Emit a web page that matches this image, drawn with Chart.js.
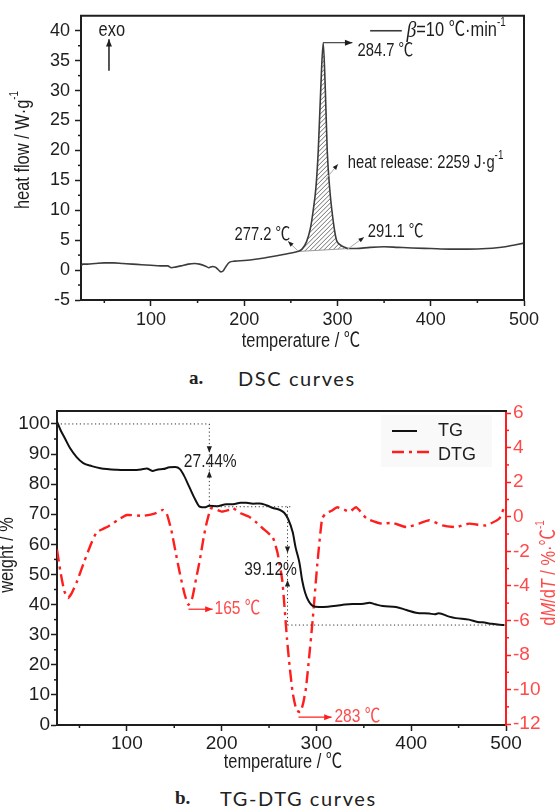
<!DOCTYPE html>
<html>
<head>
<meta charset="utf-8">
<script src="https://cdn.jsdelivr.net/npm/chart.js@4.4.1/dist/chart.umd.min.js"></script>
<style>
  html, body { margin: 0; padding: 0; background: #fff; }
  #page { position: relative; width: 558px; height: 810px; overflow: hidden; }
  #wrapA { position: absolute; left: 0; top: 0; width: 558px; height: 360px; }
  #wrapB { position: absolute; left: 0; top: 390px; width: 558px; height: 390px; }
  .cap { position: absolute; height: 24px; line-height: 24px; white-space: nowrap; color: #222; }
  .capNo { font-family: "Liberation Serif", serif; font-weight: bold; font-size: 19px; }
  .capTx { font-family: Lato, "Open Sans", sans-serif; font-size: 20px; letter-spacing: 1.6px; }
</style>
</head>
<body>
<div id="page">
  <div id="wrapA"><canvas id="dsc" width="558" height="360"></canvas></div>
  <div id="wrapB"><canvas id="tg" width="558" height="390"></canvas></div>
  <div class="cap capNo" style="left:189px;top:366px;">a.</div>
  <div class="cap capTx" style="left:238px;top:366px;">DSC curves</div>
  <div class="cap capNo" style="left:175px;top:786px;">b.</div>
  <div class="cap capTx" style="left:220px;top:786px;">TG-DTG curves</div>
</div>
<script>
// ---- DSC curve (figure a) ----
const dscTemp = [25, 27, 32, 40, 50, 60, 70, 80, 90, 100,
  110, 118, 122, 126, 132, 140, 147, 152, 158, 162,
  166, 169, 172, 175, 177, 180, 184, 190, 200, 212,
  224, 235, 245, 252, 257, 262, 267, 271, 274, 277,
  279.4, 282, 284.7, 287, 289, 292, 294, 297, 299, 303,
  308, 312, 320, 335, 350, 365, 380, 400, 420, 440,
  460, 480, 490, 500];
const dscHeat = [0.7, 1.0, 1.0, 1.1, 1.2, 1.2, 1.1, 1.0, 0.9, 0.8,
  0.7, 0.7, 0.4, 0.5, 0.7, 1.0, 1.1, 1.0, 0.7, 0.4,
  0.6, 0.5, 0.1, -0.3, -0.2, 0.5, 1.3, 1.5, 1.6, 1.8,
  2.1, 2.4, 2.7, 2.9, 3.1, 3.5, 4.8, 7, 10, 14,
  20, 30, 38, 30, 20, 13, 10, 6.5, 5.0, 4.2,
  3.8, 3.6, 3.6, 3.8, 3.9, 3.8, 3.7, 3.6, 3.5, 3.5,
  3.6, 3.9, 4.2, 4.5];
const dscPeakRange = [257, 312];          // hatched heat-release area
const dscXTicks = [100, 200, 300, 400, 500];
const dscXMinor = [50, 150, 250, 350, 450];
const dscYTicks = [-5, 0, 5, 10, 15, 20, 25, 30, 35, 40];
const dscYMinor = [-2.5, 2.5, 7.5, 12.5, 17.5, 22.5, 27.5, 32.5, 37.5];

// ---- TG / DTG curves (figure b) ----
const tgTemp = [26.3, 30, 35, 40, 47, 54, 63, 72, 90, 106,
  115, 121, 127, 133, 138, 145, 151, 156, 160, 166,
  172, 177, 182, 187, 195, 205, 212, 220, 226, 233,
  240, 247, 255, 261, 266, 270, 275, 278, 282, 285,
  288, 292, 296, 303, 312, 321, 330, 338, 350, 356,
  362, 370, 384, 395, 405, 419, 425, 429, 440, 447,
  461, 470, 475, 485, 493, 498];
const tgWeight = [100.8, 98, 95, 92, 89, 87, 86, 85.3, 84.8, 84.7,
  84.9, 85.2, 84.4, 84.9, 85, 85.6, 85.7, 85, 83, 79,
  75, 72.5, 72.3, 72.8, 72.7, 73.3, 73.3, 73.8, 73.8, 73.5,
  73.6, 73, 72, 71.5, 70.5, 68.5, 64, 59, 54, 48,
  44, 41, 39.6, 39.2, 39.3, 39.6, 40, 40.2, 40.3, 40.6,
  40.1, 39.5, 39.2, 38.2, 37.3, 37, 36.8, 37.1, 36, 35.5,
  35, 34.2, 34.1, 33.6, 33.3, 33.2];
const dtgTemp = [26.3, 30, 34, 38, 42, 47, 55, 62, 68, 75,
  82, 90, 100, 117, 130, 138, 142, 147, 152, 156,
  161, 165, 169, 173, 177, 181, 184, 189, 200, 208,
  212, 220, 229, 236, 243, 254, 259, 264, 269, 272,
  275, 279, 283, 286, 289, 292, 296, 301, 306, 310,
  316, 322, 335, 342, 353, 369, 380, 395, 408, 419,
  433, 447, 461, 479, 493, 498];
const dtgRate = [-1.9, -3.2, -4.3, -4.7, -4.4, -3.8, -2.6, -1.6, -0.9, -0.7,
  -0.5, -0.2, 0.1, 0.05, 0.2, 0.4, 0.2, -0.8, -2.2, -3.3,
  -4.5, -5.1, -4.7, -3.6, -2.5, -1.2, -0.4, 0.5, 0.3, 0.4,
  0.5, 0.2, 0, -0.3, -0.65, -1.2, -2.1, -3.7, -7.1, -8.8,
  -10.2, -11.2, -11.3, -10.8, -9.9, -8.3, -6, -2.7, -0.1, 0.2,
  0.35, 0.55, 0.3, 0.55, -0.1, -0.4, -0.35, -0.6, -0.4, -0.2,
  -0.5, -0.6, -0.4, -0.5, -0.1, 0.55];
const tgXTicks = [100, 200, 300, 400, 500];
const tgXMinor = [50, 150, 250, 350, 450];
const tgYTicks = [0, 10, 20, 30, 40, 50, 60, 70, 80, 90, 100];
const tgYMinor = [5, 15, 25, 35, 45, 55, 65, 75, 85, 95];
const dtgYTicks = [-12, -10, -8, -6, -4, -2, 0, 2, 4, 6];
const dtgYMinor = [-11, -9, -7, -5, -3, -1, 1, 3, 5];

const SANS = '"Liberation Sans", Arial, "Noto Sans CJK SC", sans-serif';
const SQ = 0.82;                     // horizontal squeeze for the narrow labels
const INK = '#1e1e1e';
const RED = '#ff1e1e';
const RED_TXT = '#ff4a4a';

// ---------- helpers ----------
// parts: [text, font, color, dy]; sx squeezes the text horizontally
function richText(ctx, parts, x, y, align, sx) {
  sx = sx || 1;
  let w = 0;
  parts.forEach(p => { ctx.font = p[1]; w += ctx.measureText(p[0]).width * sx; });
  let cx = align === 'center' ? x - w / 2 : align === 'right' ? x - w : x;
  ctx.textAlign = 'left';
  ctx.textBaseline = 'middle';
  parts.forEach(p => {
    ctx.font = p[1];
    ctx.fillStyle = p[2];
    ctx.save();
    ctx.translate(cx, y + (p[3] || 0));
    ctx.scale(sx, 1);
    ctx.fillText(p[0], 0, 0);
    ctx.restore();
    cx += ctx.measureText(p[0]).width * sx;
  });
}

function head(ctx, x1, y1, x2, y2, size, color) {
  const a = Math.atan2(y2 - y1, x2 - x1);
  ctx.fillStyle = color;
  ctx.beginPath();
  ctx.moveTo(x2, y2);
  ctx.lineTo(x2 - size * Math.cos(a - 0.38), y2 - size * Math.sin(a - 0.38));
  ctx.lineTo(x2 - size * Math.cos(a + 0.38), y2 - size * Math.sin(a + 0.38));
  ctx.closePath();
  ctx.fill();
}

function arrow(ctx, x1, y1, x2, y2, o) {
  ctx.save();
  ctx.strokeStyle = o.line;
  ctx.lineWidth = o.width || 1;
  ctx.beginPath();
  ctx.moveTo(x1, y1);
  ctx.lineTo(x2, y2);
  ctx.stroke();
  head(ctx, x1, y1, x2, y2, o.head || 7, o.headColor || o.line);
  ctx.restore();
}

function line(ctx, x1, y1, x2, y2, color, width, dash) {
  ctx.save();
  ctx.strokeStyle = color;
  ctx.lineWidth = width;
  ctx.setLineDash(dash || []);
  ctx.beginPath();
  ctx.moveTo(x1, y1);
  ctx.lineTo(x2, y2);
  ctx.stroke();
  ctx.restore();
}

// minor ticks + frame lines
const axisExtras = {
  id: 'axisExtras',
  afterDraw(chart, args, opts) {
    const ctx = chart.ctx, a = chart.chartArea;
    ctx.save();
    (opts.minor || []).forEach(m => {
      const sc = chart.scales[m.axis];
      ctx.strokeStyle = m.color;
      ctx.lineWidth = 1.5;
      m.values.forEach(v => {
        const p = sc.getPixelForValue(v);
        ctx.beginPath();
        if (sc.axis === 'x') { ctx.moveTo(p, a.bottom); ctx.lineTo(p, a.bottom + m.len); }
        else if (sc.position === 'left') { ctx.moveTo(a.left, p); ctx.lineTo(a.left - m.len, p); }
        else { ctx.moveTo(a.right, p); ctx.lineTo(a.right + m.len, p); }
        ctx.stroke();
      });
    });
    ctx.strokeStyle = INK;
    ctx.lineWidth = 2;
    if (opts.top) { ctx.beginPath(); ctx.moveTo(a.left - 1, a.top); ctx.lineTo(a.right + 1, a.top); ctx.stroke(); }
    if (opts.right) { ctx.beginPath(); ctx.moveTo(a.right, a.top); ctx.lineTo(a.right, a.bottom); ctx.stroke(); }
    ctx.restore();
  }
};

function setTicks(arr) {
  return s => { s.ticks = arr.map(v => ({ value: v })); };
}

function axisStyle(color, labelColor, len, size, pad) {
  return {
    border: { display: true, color: color, width: 2 },
    grid: { display: true, drawOnChartArea: false, drawTicks: true, tickLength: len, tickColor: color, tickWidth: 1.5 },
    ticks: { color: labelColor, font: { family: SANS, size: size }, padding: pad, maxRotation: 0, autoSkip: false }
  };
}

// ---------- figure a: DSC ----------
const dscNotes = {
  id: 'dscNotes',
  beforeDatasetsDraw(chart) {
    const ctx = chart.ctx, a = chart.chartArea;
    const pts = chart.getDatasetMeta(0).data;
    const idx = dscTemp.map((t, i) => i).filter(i => dscTemp[i] >= dscPeakRange[0] && dscTemp[i] <= dscPeakRange[1]);
    ctx.save();
    ctx.beginPath();
    idx.forEach((i, k) => {
      const p = pts[i];
      if (k === 0) { ctx.moveTo(p.x, p.y); return; }
      const q = pts[i - 1];
      ctx.bezierCurveTo(q.cp2x, q.cp2y, p.cp1x, p.cp1y, p.x, p.y);
    });
    ctx.closePath();
    ctx.save();
    ctx.clip();
    ctx.strokeStyle = '#4a4a4a';
    ctx.lineWidth = 0.8;
    const h = a.bottom - a.top;
    for (let k = a.left - h; k < a.right; k += 4.5) {
      ctx.beginPath();
      ctx.moveTo(k, a.bottom);
      ctx.lineTo(k + h, a.top);
      ctx.stroke();
    }
    ctx.restore();
    const p0 = pts[idx[0]], p1 = pts[idx[idx.length - 1]];
    line(ctx, p0.x, p0.y, p1.x, p1.y, '#9a9a9a', 1);
    ctx.restore();
  },
  afterDraw(chart) {
    const ctx = chart.ctx, x = chart.scales.x, y = chart.scales.y;
    const X = v => x.getPixelForValue(v), Y = v => y.getPixelForValue(v);
    const f20 = '20px ' + SANS, f18 = '18px ' + SANS, sup = '12px ' + SANS;
    ctx.save();
    // axis titles
    richText(ctx, [['temperature / ℃', f20, INK]], 301, 341, 'center', SQ);
    ctx.save();
    ctx.translate(23, 150);
    ctx.rotate(-Math.PI / 2);
    richText(ctx, [['heat flow / W·g', f20, INK], ['-1', sup, INK, -8]], 0, 0, 'center', SQ);
    ctx.restore();
    // legend
    line(ctx, X(335), Y(40), X(369), Y(40), '#3c3c3c', 1.6);
    richText(ctx, [['β', 'italic 24px "Liberation Serif", serif', INK], ['=10 ℃·min', f20, INK], ['-1', sup, INK, -8]], X(374), Y(40), 'left', SQ);
    // exo
    richText(ctx, [['exo', f20, INK]], X(58), Y(40), 'center', SQ);
    arrow(ctx, X(55), Y(33.3), X(55), Y(38.6), { line: INK, width: 1.5, head: 8 });
    // peak
    arrow(ctx, X(284.7), Y(38), X(316), Y(38), { line: INK, width: 1, head: 8 });
    richText(ctx, [['284.7 ℃', f18, INK]], X(321.5), Y(36.6), 'left', SQ);
    // heat release
    arrow(ctx, X(287.5), Y(15.2), X(300.5), Y(17.7), { line: '#aaa', headColor: INK, width: 1, head: 6 });
    richText(ctx, [['heat release: 2259 J·g', f18, INK], ['-1', sup, INK, -7]], X(311), Y(17.9), 'left', SQ);
    // onset / end
    arrow(ctx, X(257.7), Y(3.2), X(247), Y(4.8), { line: '#aaa', headColor: INK, width: 1, head: 6 });
    richText(ctx, [['277.2 ℃', f18, INK]], X(249.5), Y(5.9), 'right', SQ);
    arrow(ctx, X(310), Y(3.4), X(328.5), Y(5.5), { line: '#aaa', headColor: INK, width: 1, head: 6 });
    richText(ctx, [['291.1 ℃', f18, INK]], X(332.5), Y(6.4), 'left', SQ);
    ctx.restore();
  }
};

new Chart(document.getElementById('dsc'), {
  type: 'line',
  data: {
    datasets: [{
      label: 'β=10 ℃·min-1',
      data: dscTemp.map((t, i) => ({ x: t, y: dscHeat[i] })),
      borderColor: '#3c3c3c',
      borderWidth: 1.6,
      pointRadius: 0,
      cubicInterpolationMode: 'monotone',
      fill: false,
    }]
  },
  options: {
    responsive: false,
    animation: false,
    events: [],
    layout: { padding: { left: 0, right: 34, top: 15, bottom: 0 } },
    plugins: {
      legend: { display: false },
      tooltip: { enabled: false },
      axisExtras: {
        top: true, right: true,
        minor: [
          { axis: 'x', values: dscXMinor, len: 3, color: INK },
          { axis: 'y', values: dscYMinor, len: 3, color: INK },
        ]
      }
    },
    scales: {
      x: Object.assign({
        type: 'linear', min: 25, max: 500,
        afterBuildTicks: setTicks(dscXTicks),
        afterFit: s => { s.height = 60; },
      }, axisStyle(INK, INK, 6, 18, 3)),
      y: Object.assign({
        type: 'linear', min: -5, max: 42.5,
        afterBuildTicks: setTicks(dscYTicks),
        afterFit: s => { s.width = 81; },
      }, axisStyle(INK, INK, 6, 18, 5)),
    }
  },
  plugins: [axisExtras, dscNotes]
});

// ---------- figure b: TG-DTG ----------
const tgNotes = {
  id: 'tgNotes',
  afterDraw(chart) {
    const ctx = chart.ctx, x = chart.scales.x, y = chart.scales.y, y2 = chart.scales.y2;
    const X = v => x.getPixelForValue(v), Y = v => y.getPixelForValue(v), R = v => y2.getPixelForValue(v);
    const f20 = '20px ' + SANS, f19 = '19px ' + SANS, sup = '12px ' + SANS;
    const dot = [1.2, 2.6];
    ctx.save();
    // axis titles
    richText(ctx, [['temperature / ℃', f20, INK]], 283, 372, 'center', SQ);
    ctx.save();
    ctx.translate(7, 165);
    ctx.rotate(-Math.PI / 2);
    richText(ctx, [['weight / %', f20, INK]], 0, 0, 'center', SQ);
    ctx.restore();
    ctx.save();
    ctx.translate(549, 183);
    ctx.rotate(-Math.PI / 2);
    const it = 'italic 20px ' + SANS;
    richText(ctx, [['d', f20, RED_TXT], ['M', it, RED_TXT], ['/d', f20, RED_TXT], ['T', it, RED_TXT], [' / %·℃', f20, RED_TXT], ['-1', sup, RED_TXT, -8]], 0, 0, 'center', SQ);
    ctx.restore();

    // mass-loss guides
    line(ctx, X(26.3), Y(100), X(187), Y(100), '#333', 1, dot);
    line(ctx, X(187), Y(100), X(187), Y(72.5), '#333', 1, dot);
    line(ctx, X(187), Y(72.5), X(274.7), Y(72.5), '#333', 1, dot);
    line(ctx, X(269.5), Y(72.5), X(269.5), Y(33.2), '#333', 1, dot);
    line(ctx, X(269.5), Y(33.2), X(500), Y(33.2), '#333', 1, dot);
    head(ctx, X(187), Y(93), X(187), Y(90.4), 7, INK);
    head(ctx, X(187), Y(82), X(187), Y(84.4), 7, INK);
    richText(ctx, [['27.44%', f19, INK]], X(188), Y(87.4), 'center', SQ);
    head(ctx, X(269.5), Y(60), X(269.5), Y(57.1), 7, INK);
    head(ctx, X(269.5), Y(46), X(269.5), Y(48.2), 7, INK);
    richText(ctx, [['39.12%', f19, INK]], X(251.6), Y(51.5), 'center', SQ);

    // DTG peaks
    arrow(ctx, X(165), R(-5.35), X(190.5), R(-5.35), { line: RED, width: 1.2, head: 8 });
    richText(ctx, [['165 ℃', f19, RED_TXT]], X(192.5), R(-5.35), 'left', SQ);
    arrow(ctx, X(281), R(-11.6), X(316), R(-11.6), { line: RED, width: 1.2, head: 8 });
    richText(ctx, [['283 ℃', f19, RED_TXT]], X(319), R(-11.6), 'left', SQ);

    // legend
    const ds = chart.data.datasets;
    ctx.fillStyle = 'rgba(245,245,245,0.6)';
    ctx.fillRect(381, 25, 111, 52);
    line(ctx, 392, 41, 417, 41, ds[0].borderColor, ds[0].borderWidth);
    richText(ctx, [[ds[0].label, '18px ' + SANS, INK]], 438, 41, 'left');
    line(ctx, 392, 62, 434, 62, ds[1].borderColor, ds[1].borderWidth, ds[1].borderDash);
    richText(ctx, [[ds[1].label, '18px ' + SANS, INK]], 438, 65, 'left');
    ctx.restore();
  }
};

new Chart(document.getElementById('tg'), {
  type: 'line',
  data: {
    datasets: [{
      label: 'TG',
      yAxisID: 'y',
      data: tgTemp.map((t, i) => ({ x: t, y: tgWeight[i] })),
      borderColor: '#111',
      borderWidth: 2,
      pointRadius: 0,
      cubicInterpolationMode: 'monotone',
      fill: false,
    }, {
      label: 'DTG',
      yAxisID: 'y2',
      data: dtgTemp.map((t, i) => ({ x: t, y: dtgRate[i] })),
      borderColor: RED,
      borderWidth: 2.4,
      borderDash: [12, 5, 3, 5],
      pointRadius: 0,
      tension: 0.15,
      fill: false,
    }]
  },
  options: {
    responsive: false,
    animation: false,
    events: [],
    layout: { padding: { left: 0, right: 0, top: 21, bottom: 0 } },
    plugins: {
      legend: { display: false },
      tooltip: { enabled: false },
      axisExtras: {
        top: true, right: false,
        minor: [
          { axis: 'x', values: tgXMinor, len: 3, color: INK },
          { axis: 'y', values: tgYMinor, len: 3, color: INK },
          { axis: 'y2', values: dtgYMinor, len: 3, color: RED },
        ]
      }
    },
    scales: {
      x: Object.assign({
        type: 'linear', min: 26.3, max: 500,
        afterBuildTicks: setTicks(tgXTicks),
        afterFit: s => { s.height = 55; },
      }, axisStyle(INK, INK, 6, 19, 1)),
      y: Object.assign({
        type: 'linear', position: 'left', min: 0, max: 104.3,
        afterBuildTicks: setTicks(tgYTicks),
        afterFit: s => { s.width = 57; },
      }, axisStyle(INK, INK, 6, 19, 1)),
      y2: Object.assign({
        type: 'linear', position: 'right', min: -12.05, max: 6.12,
        afterBuildTicks: setTicks(dtgYTicks),
        afterFit: s => { s.width = 52; },
      }, axisStyle(RED, RED_TXT, 5, 19, 2)),
    }
  },
  plugins: [axisExtras, tgNotes]
});
</script>
</body>
</html>
